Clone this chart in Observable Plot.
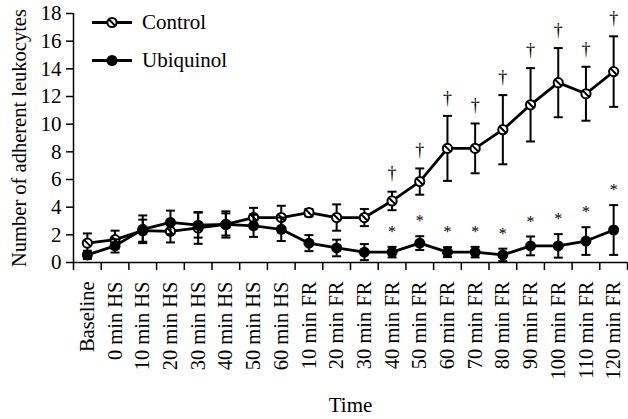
<!DOCTYPE html>
<html>
<head>
<meta charset="utf-8">
<script src="https://cdn.jsdelivr.net/npm/d3@7"></script>
<script src="https://cdn.jsdelivr.net/npm/@observablehq/plot@0.6"></script>
<style>
  html, body { margin: 0; padding: 0; background: #fff; }
  #chart { width: 628px; height: 419px; }
</style>
</head>
<body>
<div id="chart"></div>
<script>
const categories = ["Baseline","0 min HS","10 min HS","20 min HS","30 min HS","40 min HS","50 min HS","60 min HS",
  "10 min FR","20 min FR","30 min FR","40 min FR","50 min FR","60 min FR","70 min FR","80 min FR","90 min FR","100 min FR","110 min FR","120 min FR"];
const control = [1.4,1.65,2.3,2.25,2.5,2.75,3.25,3.25,3.6,3.25,3.25,4.45,5.85,8.25,8.25,9.6,11.4,13.0,12.2,13.8];
const controlErr = [0.7,0.65,0.8,0.8,1.15,0.8,0.7,0.85,0.27,0.95,0.62,0.67,0.95,2.35,1.8,2.5,2.65,2.5,1.95,2.55];
const ubiquinol = [0.55,1.2,2.4,2.9,2.7,2.75,2.65,2.4,1.4,1.05,0.75,0.75,1.4,0.75,0.75,0.55,1.2,1.2,1.55,2.35];
const ubiquinolErr = [0.3,0.48,1.0,0.85,0.9,0.95,0.8,0.85,0.58,0.6,0.58,0.38,0.5,0.36,0.38,0.45,0.68,0.85,1.0,1.8];
const controlSig = ["","","","","","","","","","","","†","†","†","†","†","†","†","†","†"];
const ubiquinolSig = ["","","","","","","","","","","","*","*","*","*","*","*","*","*","*"];
const yTicks = [0,2,4,6,8,10,12,14,16,18];
const seriesNames = ["Control","Ubiquinol"];
const yLabel = "Number of adherent leukocytes";
const xLabel = "Time";

const rows = categories.map((c, i) => ({
  pos: i + 0.5, cat: c,
  control: control[i], cLo: control[i] - controlErr[i], cHi: control[i] + controlErr[i], cSig: controlSig[i],
  ubi: ubiquinol[i], uLo: ubiquinol[i] - ubiquinolErr[i], uHi: ubiquinol[i] + ubiquinolErr[i], uSig: ubiquinolSig[i]
}));
const boundaries = d3.range(categories.length + 1);
const centers = categories.map((c, i) => i + 0.5);

const capSymbol = {draw(ctx) { ctx.moveTo(-4.5, 0); ctx.lineTo(4.5, 0); }};
const openSymbol = {draw(ctx, size) {
  const r = Math.sqrt(size / Math.PI);
  ctx.moveTo(r, 0); ctx.arc(0, 0, r, 0, 2 * Math.PI); ctx.closePath();
  ctx.moveTo(-r * 0.7, -r * 0.7); ctx.lineTo(r * 0.7, r * 0.7);
}};
const legendLine = {draw(ctx) { ctx.moveTo(-20, 0); ctx.lineTo(20, 0); }};

const ink = "#000";
const chart = Plot.plot({
  width: 628, height: 419,
  marginLeft: 73, marginRight: 1, marginTop: 13, marginBottom: 157,
  style: {fontFamily: "'Liberation Serif', serif", fontSize: "20px", color: ink, background: "#fff"},
  x: {type: "linear", domain: [0, categories.length]},
  y: {domain: [0, 18]},
  marks: [
    Plot.axisY({ticks: yTicks, tickSize: 7, tickPadding: 5, label: null, strokeWidth: 1.5, fontSize: 21, fill: ink}),
    Plot.axisY({ticks: [], tickSize: 0, label: yLabel, labelAnchor: "center", labelArrow: "none", labelOffset: 62, fontSize: 20.5, fill: ink}),
    Plot.axisX({ticks: boundaries, tickSize: 8, tickFormat: () => "", label: null, strokeWidth: 1.5}),
    Plot.axisX({ticks: centers, tickSize: 0, tickPadding: 19, tickRotate: -90, label: null,
      tickFormat: d => categories[Math.round(d - 0.5)], fontSize: 20.5, fill: ink}),
    Plot.ruleY([0], {strokeWidth: 1.5}),
    Plot.ruleX([0], {strokeWidth: 1.5}),
    // Control series
    Plot.ruleX(rows, {x: "pos", y1: "cLo", y2: "cHi", strokeWidth: 2}),
    Plot.dot(rows, {x: "pos", y: "cLo", symbol: capSymbol, stroke: ink, strokeWidth: 2}),
    Plot.dot(rows, {x: "pos", y: "cHi", symbol: capSymbol, stroke: ink, strokeWidth: 2}),
    Plot.line(rows, {x: "pos", y: "control", strokeWidth: 2.8, stroke: ink}),
    Plot.dot(rows, {x: "pos", y: "control", r: 4.6, symbol: openSymbol, fill: "#fff", stroke: ink, strokeWidth: 2}),
    Plot.text(rows, {x: "pos", y: "cHi", text: "cSig", dy: -18, fontSize: 18, lineAnchor: "middle", fill: ink}),
    // Ubiquinol series
    Plot.ruleX(rows, {x: "pos", y1: "uLo", y2: "uHi", strokeWidth: 2}),
    Plot.dot(rows, {x: "pos", y: "uLo", symbol: capSymbol, stroke: ink, strokeWidth: 2}),
    Plot.dot(rows, {x: "pos", y: "uHi", symbol: capSymbol, stroke: ink, strokeWidth: 2}),
    Plot.line(rows, {x: "pos", y: "ubi", strokeWidth: 2.8, stroke: ink}),
    Plot.dot(rows, {x: "pos", y: "ubi", r: 5.5, fill: ink}),
    Plot.text(rows, {x: "pos", y: "uHi", text: "uSig", dy: -15, fontSize: 16, lineAnchor: "middle", fill: ink}),
    // Legend
    Plot.dot([seriesNames[0]], {frameAnchor: "top-left", dx: 38.5, dy: 9, symbol: legendLine, stroke: ink, strokeWidth: 2.8}),
    Plot.dot([seriesNames[0]], {frameAnchor: "top-left", dx: 38.5, dy: 9, r: 4.6, symbol: openSymbol, fill: "#fff", stroke: ink, strokeWidth: 2}),
    Plot.text([seriesNames[0]], {frameAnchor: "top-left", dx: 68.5, dy: 9, textAnchor: "start", lineAnchor: "middle", fontSize: 21, fill: ink}),
    Plot.dot([seriesNames[1]], {frameAnchor: "top-left", dx: 38.5, dy: 47, symbol: legendLine, stroke: ink, strokeWidth: 2.8}),
    Plot.dot([seriesNames[1]], {frameAnchor: "top-left", dx: 38.5, dy: 47, r: 5.5, fill: ink}),
    Plot.text([seriesNames[1]], {frameAnchor: "top-left", dx: 68.5, dy: 47, textAnchor: "start", lineAnchor: "middle", fontSize: 21, fill: ink}),
    // X axis title
    Plot.text([xLabel], {frameAnchor: "bottom", dy: 143, fontSize: 21, lineAnchor: "middle", fill: ink})
  ]
});
document.getElementById("chart").appendChild(chart);
</script>
</body>
</html>
